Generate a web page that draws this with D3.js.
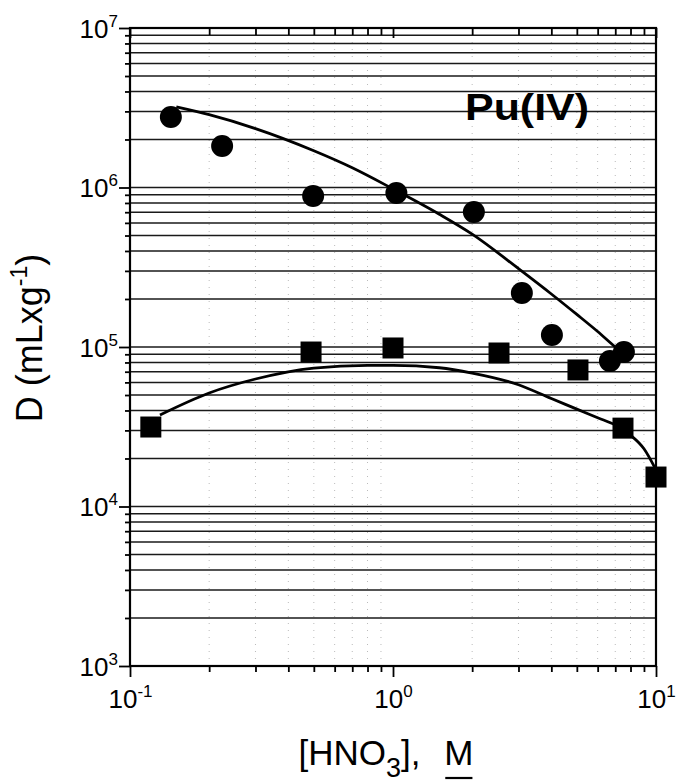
<!DOCTYPE html>
<html><head><meta charset="utf-8">
<script src="https://cdn.jsdelivr.net/npm/d3@7"></script>
<style>body{margin:0;background:#fff} svg{display:block}</style>
</head><body>
<svg id="c" width="677" height="783"></svg>
<script>
// ---- data ----
const circleX = [0.143, 0.224, 0.497, 1.03, 2.03, 3.09, 4.02, 6.68, 7.55];
const circleD = [2.77e6, 1.82e6, 8.85e5, 9.24e5, 7.02e5, 2.18e5, 1.19e5, 8.17e4, 9.3e4];
const squareX = [0.12, 0.488, 1.0, 2.53, 5.05, 7.49, 10.0];
const squareD = [3.15e4, 9.3e4, 9.86e4, 9.17e4, 7.18e4, 3.1e4, 1.53e4];
const fit1X = [0.15, 0.2, 0.3, 0.5, 0.7, 1.0, 1.5, 2, 3, 4, 5, 6, 7, 7.7];
const fit1D = [3.2e6, 2.86e6, 2.34e6, 1.70e6, 1.33e6, 9.8e5, 6.8e5, 5.1e5, 3.1e5, 2.15e5, 1.6e5, 1.25e5, 1.0e5, 8.8e4];
const fit2X = [0.13, 0.2, 0.3, 0.5, 0.8, 1.0, 1.5, 2, 3, 4, 5, 6, 7, 8, 9, 9.9];
const fit2D = [3.75e4, 5.15e4, 6.3e4, 7.38e4, 7.67e4, 7.67e4, 7.41e4, 6.86e4, 5.8e4, 4.75e4, 4.08e4, 3.6e4, 3.24e4, 2.8e4, 2.3e4, 1.75e4];
const xMajorTicks = [0.1, 1, 10];
const xTickExps = ["-1", "0", "1"];
const yMajorTicks = [1e3, 1e4, 1e5, 1e6, 1e7];
const yTickExps = ["3", "4", "5", "6", "7"];
const seriesLabel = "Pu(IV)";

// ---- layout ----
const FONT = "'Liberation Sans', Arial, Helvetica, sans-serif";
const L = 130, R = 656, T = 28, B = 666;
const svg = d3.select("#c").style("font-family", FONT);
const x = d3.scaleLog().domain([0.1, 10]).range([L, R]);
const y = d3.scaleLog().domain([1e3, 1e7]).range([B, T]);

const isMajor = v => Math.abs(Math.log10(v) - Math.round(Math.log10(v))) < 1e-9;
const xMinor = x.ticks().filter(v => !isMajor(v));
const yAll = y.ticks();
const yMinor = yAll.filter(v => !isMajor(v));

// faint dotted vertical grid
svg.append("g").selectAll("line").data(xMinor).join("line")
  .attr("x1", d => x(d)).attr("x2", d => x(d)).attr("y1", T).attr("y2", B)
  .attr("stroke", "#bbb").attr("stroke-width", 1).attr("stroke-dasharray", "1 6");

// horizontal grid
svg.append("g").selectAll("line").data(yAll.filter(v => v > 1e3 && v < 1e7)).join("line")
  .attr("x1", L).attr("x2", R).attr("y1", d => y(d)).attr("y2", d => y(d))
  .attr("stroke", "#1a1a1a").attr("stroke-width", 1.5);

// axes
function styleAxis(g) {
  g.attr("font-family", FONT);
  g.select(".domain").remove();
  g.selectAll(".tick line").attr("stroke", "#000").attr("stroke-width", 1.8);
}
svg.append("g").attr("transform", `translate(0,${B})`)
  .call(d3.axisBottom(x).tickValues(xMinor).tickSize(6).tickFormat(""))
  .call(styleAxis);
const gxb = svg.append("g").attr("transform", `translate(0,${B})`)
  .call(d3.axisBottom(x).tickValues(xMajorTicks).tickSize(11))
  .call(styleAxis);
gxb.selectAll(".tick text").each(function (d, i) {
  const t = d3.select(this);
  t.text(null).attr("y", 42).attr("dy", 0).attr("font-size", 26).attr("fill", "#000")
    .attr("text-anchor", "middle");
  t.append("tspan").text("10");
  t.append("tspan").attr("dy", -11).attr("font-size", 17).text(xTickExps[i]);
});
svg.append("g").attr("transform", `translate(0,${T})`)
  .call(d3.axisTop(x).tickValues(xMinor).tickSize(-7).tickFormat(""))
  .call(styleAxis);
svg.append("g").attr("transform", `translate(0,${T})`)
  .call(d3.axisTop(x).tickValues(xMajorTicks).tickSize(-10).tickFormat(""))
  .call(styleAxis);

svg.append("g").attr("transform", `translate(${L},0)`)
  .call(d3.axisLeft(y).tickValues(yMinor).tickSize(5).tickFormat(""))
  .call(styleAxis);
const gyl = svg.append("g").attr("transform", `translate(${L},0)`)
  .call(d3.axisLeft(y).tickValues(yMajorTicks).tickSize(11))
  .call(styleAxis);
gyl.selectAll(".tick text").each(function (d, i) {
  const t = d3.select(this);
  t.text(null).attr("x", -12).attr("dy", "0.36em").attr("font-size", 26).attr("fill", "#000")
    .attr("text-anchor", "end");
  t.append("tspan").text("10");
  t.append("tspan").attr("dy", -11).attr("font-size", 17).text(yTickExps[i]);
});

// frame
svg.append("rect").attr("x", L).attr("y", T).attr("width", R - L).attr("height", B - T)
  .attr("fill", "none").attr("stroke", "#000").attr("stroke-width", 2.2);

// fit curves
const line = d3.line().x(d => x(d[0])).y(d => y(d[1])).curve(d3.curveMonotoneX);
svg.append("path").datum(fit1X.map((v, i) => [v, fit1D[i]])).attr("d", line)
  .attr("fill", "none").attr("stroke", "#000").attr("stroke-width", 2.8);
svg.append("path").datum(fit2X.map((v, i) => [v, fit2D[i]])).attr("d", line)
  .attr("fill", "none").attr("stroke", "#000").attr("stroke-width", 2.8);

// markers
svg.append("g").selectAll("circle").data(circleX.map((v, i) => [v, circleD[i]])).join("circle")
  .attr("cx", d => x(d[0])).attr("cy", d => y(d[1])).attr("r", 11).attr("fill", "#000");
const S = 21;
svg.append("g").selectAll("rect").data(squareX.map((v, i) => [v, squareD[i]])).join("rect")
  .attr("x", d => x(d[0]) - S / 2).attr("y", d => y(d[1]) - S / 2)
  .attr("width", S).attr("height", S).attr("fill", "#000");

// series label
svg.append("text").attr("x", 465).attr("y", 120).attr("font-size", 36).attr("font-weight", "bold")
  .attr("fill", "#000").attr("textLength", 124).attr("lengthAdjust", "spacingAndGlyphs")
  .text(seriesLabel);

// x title
const xt = svg.append("text").attr("x", 386).attr("y", 765).attr("text-anchor", "middle")
  .attr("font-size", 35).attr("fill", "#000");
xt.append("tspan").text("[HNO");
xt.append("tspan").attr("dy", 12).attr("font-size", 27).text("3");
xt.append("tspan").attr("dy", -12).text("],");
xt.append("tspan").attr("dx", 14).text(" M");
{
  const n = xt.node().getNumberOfChars();
  const ext = xt.node().getExtentOfChar(n - 1);
  svg.append("line").attr("x1", ext.x + 1).attr("x2", ext.x + ext.width - 1)
    .attr("y1", 778).attr("y2", 778).attr("stroke", "#000").attr("stroke-width", 2.2);
}

// y title
const yt = svg.append("text").attr("transform", "translate(42,338) rotate(-90)")
  .attr("text-anchor", "middle").attr("font-size", 36).attr("fill", "#000");
yt.append("tspan").text("D (mLxg");
yt.append("tspan").attr("dy", -15).attr("font-size", 23).text("-1");
yt.append("tspan").attr("dy", 15).text(")");
</script>
</body></html>
